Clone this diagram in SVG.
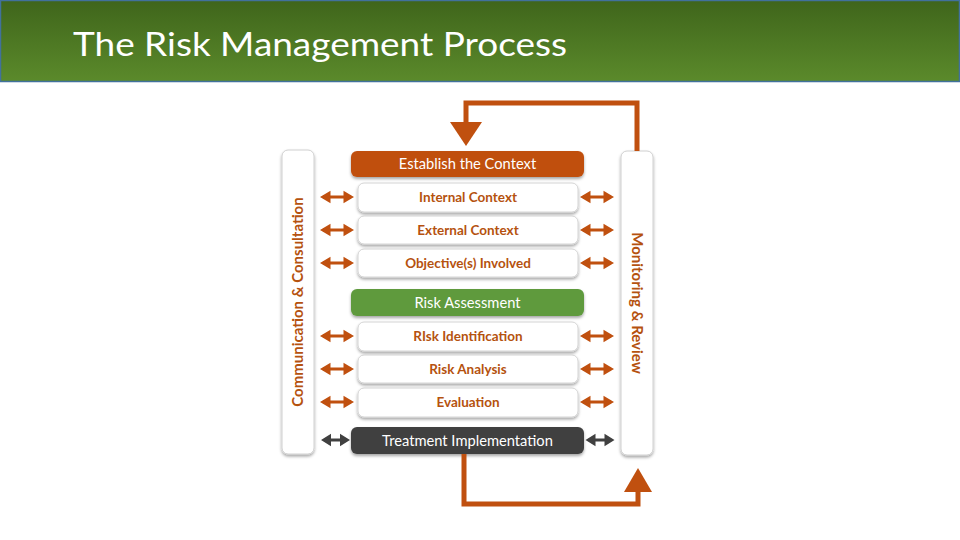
<svg xmlns="http://www.w3.org/2000/svg" width="960" height="540" viewBox="0 0 960 540">
<defs>
<linearGradient id="hdr" x1="0" y1="0" x2="0" y2="1">
<stop offset="0" stop-color="#3f651b"/>
<stop offset="1" stop-color="#5b8a2b"/>
</linearGradient>
<filter id="sh" x="-10%" y="-20%" width="120%" height="160%">
<feDropShadow dx="0" dy="2" stdDeviation="1.5" flood-color="#000" flood-opacity="0.35"/>
</filter>
<path id="dbl" d="M-17,0 L-6.5,-6.2 L-6.5,-1.6 L6.5,-1.6 L6.5,-6.2 L17,0 L6.5,6.2 L6.5,1.6 L-6.5,1.6 L-6.5,6.2 Z"/>
<path id="dbls" d="M-14.5,0 L-4.5,-6.2 L-4.5,-1.6 L4.5,-1.6 L4.5,-6.2 L14.5,0 L4.5,6.2 L4.5,1.6 L-4.5,1.6 L-4.5,6.2 Z"/>
</defs>
<style>
.bar{fill:#fff;stroke:#d0d0d0;stroke-width:1;filter:url(#sh)}
.sub{fill:#fff;stroke:#d4d4d4;stroke-width:1;filter:url(#sh)}
.lbl{font-family:Lato,"Liberation Sans",sans-serif;font-weight:bold;font-size:13.5px;fill:#b5520f;text-anchor:middle}
.hl{font-family:Lato,"Liberation Sans",sans-serif;font-size:14.7px;fill:#fff;text-anchor:middle}
.vt{font-family:Lato,"Liberation Sans",sans-serif;font-weight:bold;font-size:15px;fill:#b5520f;text-anchor:middle}
.ao{fill:#c0500f}
.ad{fill:#404040}
.loop{stroke:#c0500f;stroke-width:5;fill:none}
</style>
<rect x="0.5" y="0.5" width="959" height="81" fill="url(#hdr)" stroke="#41719c" stroke-width="1.5"/>
<text x="73" y="56" font-family="Lato,'Liberation Sans',sans-serif" font-size="33" fill="#fff" textLength="494" lengthAdjust="spacingAndGlyphs">The Risk Management Process</text>

<g id="comm"><rect class="bar" x="282" y="150" width="32" height="304" rx="6"/>
<text class="vt" transform="translate(303,302) rotate(-90)">Communication &amp; Consultation</text></g>
<g id="monitor"><rect class="bar" x="621" y="151" width="32" height="304" rx="6"/>
<text class="vt" transform="translate(632,303) rotate(90)">Monitoring &amp; Review</text></g>

<g id="establish"><rect x="351" y="151" width="233" height="26" rx="6" fill="#c0500f" filter="url(#sh)"/>
<text class="hl" x="467.5" y="168.5">Establish the Context</text></g>
<g id="internal"><rect class="sub" x="358" y="183" width="220" height="29" rx="6"/>
<text class="lbl" x="468" y="202">Internal Context</text></g>
<g id="external"><rect class="sub" x="358" y="216" width="220" height="28" rx="6"/>
<text class="lbl" x="468" y="234.5">External Context</text></g>
<g id="objective"><rect class="sub" x="358" y="249" width="220" height="28" rx="6"/>
<text class="lbl" x="468" y="267.5">Objective(s) Involved</text></g>
<g id="assessment"><rect x="351" y="289" width="233" height="27" rx="6" fill="#5f9a3e" filter="url(#sh)"/>
<text class="hl" x="467.5" y="307.5">Risk Assessment</text></g>
<g id="identification"><rect class="sub" x="358" y="322" width="220" height="29" rx="6"/>
<text class="lbl" x="468" y="341">RIsk Identification</text></g>
<g id="analysis"><rect class="sub" x="358" y="355" width="220" height="28" rx="6"/>
<text class="lbl" x="468" y="373.5">Risk Analysis</text></g>
<g id="evaluation"><rect class="sub" x="358" y="388" width="220" height="29" rx="6"/>
<text class="lbl" x="468" y="406.5">Evaluation</text></g>
<g id="treatment"><rect x="351" y="427" width="233" height="27" rx="6" fill="#404040" filter="url(#sh)"/>
<text class="hl" x="467.5" y="445.5">Treatment Implementation</text></g>

<g id="connectors">
<use href="#dbl" class="ao" x="337" y="197"/>
<use href="#dbl" class="ao" x="337" y="230"/>
<use href="#dbl" class="ao" x="337" y="263"/>
<use href="#dbl" class="ao" x="337" y="336"/>
<use href="#dbl" class="ao" x="337" y="369"/>
<use href="#dbl" class="ao" x="337" y="402"/>
<use href="#dbl" class="ao" x="597" y="197"/>
<use href="#dbl" class="ao" x="597" y="230"/>
<use href="#dbl" class="ao" x="597" y="263"/>
<use href="#dbl" class="ao" x="597" y="336"/>
<use href="#dbl" class="ao" x="597" y="369"/>
<use href="#dbl" class="ao" x="597" y="402"/>
<use href="#dbls" class="ad" x="335.5" y="440"/>
<use href="#dbls" class="ad" x="600" y="440"/>
<polyline class="loop" points="637,151 637,103 466,103 466,124"/>
<path d="M450,122 L482,122 L466,146 Z" fill="#c0500f"/>
<polyline class="loop" points="464,454 464,504 638,504 638,490"/>
<path d="M624,492 L652,492 L638,468 Z" fill="#c0500f"/>
</g>
</svg>
